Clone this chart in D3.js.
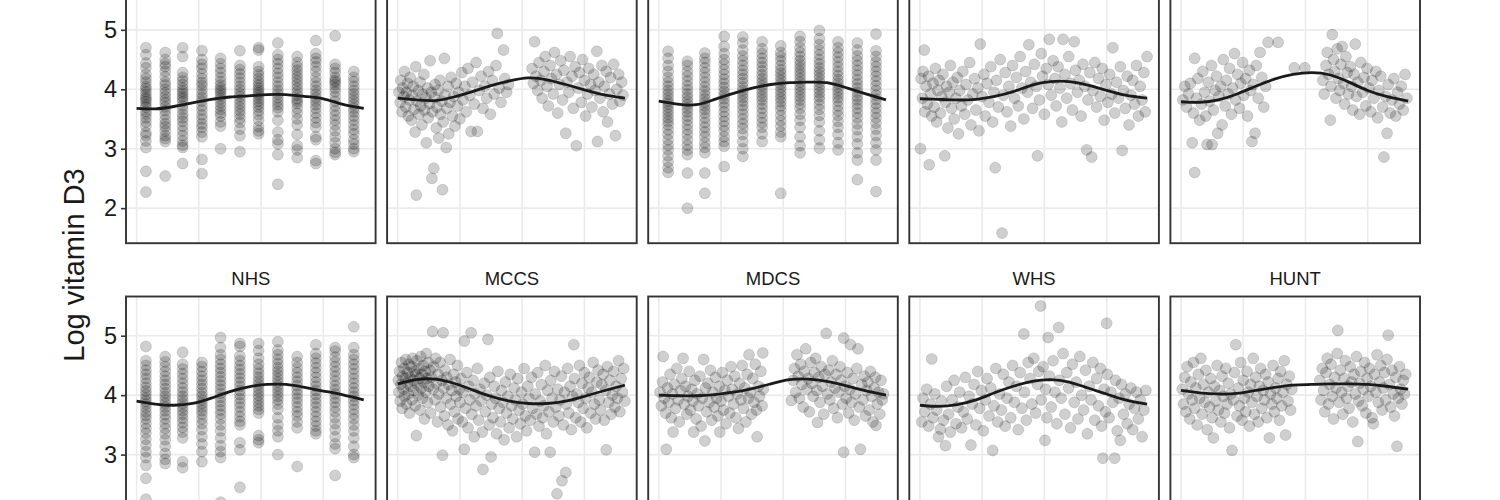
<!DOCTYPE html>
<html>
<head>
<meta charset="utf-8">
<script src="https://cdn.jsdelivr.net/npm/d3@7"></script>
<style>
  body { margin: 0; background: #fff; }
  text { font-family: "Liberation Sans", Arial, Helvetica, sans-serif; }
</style>
</head>
<body>
<div id="chart"></div>
<script>
const width = 1500;
const height = 500;

// Facet titles (top-row titles fall outside the crop)
const topTitles = ["", "", "", "", ""];
const bottomTitles = ["NHS", "MCCS", "MDCS", "WHS", "HUNT"];

const yTicks = [2, 3, 4, 5];
const xTicks = [0, 100, 200, 300];
const monthDays = [15, 46, 74, 105, 135, 166, 196, 227, 258, 288, 319, 349];
const fitDays = [0, 30, 60, 90, 120, 150, 180, 210, 240, 270, 300, 330, 365];

// Fitted seasonal curves, one value per fitDays entry
const fitTop1 = [3.68, 3.67, 3.71, 3.77, 3.83, 3.87, 3.89, 3.91, 3.91, 3.88, 3.84, 3.75, 3.68];
const fitTop2 = [3.85, 3.82, 3.81, 3.87, 3.96, 4.06, 4.14, 4.19, 4.16, 4.08, 3.99, 3.91, 3.85];
const fitTop3 = [3.80, 3.75, 3.74, 3.83, 3.93, 4.02, 4.08, 4.11, 4.12, 4.11, 4.03, 3.93, 3.82];
const fitTop4 = [3.84, 3.83, 3.82, 3.83, 3.88, 3.96, 4.07, 4.13, 4.13, 4.07, 3.98, 3.90, 3.85];
const fitTop5 = [3.79, 3.78, 3.82, 3.92, 4.05, 4.17, 4.25, 4.28, 4.24, 4.12, 3.98, 3.88, 3.80];
const fitNHS  = [3.90, 3.85, 3.83, 3.86, 3.95, 4.06, 4.14, 4.18, 4.18, 4.13, 4.07, 4.01, 3.92];
const fitMCCS = [4.19, 4.26, 4.27, 4.20, 4.09, 3.98, 3.90, 3.86, 3.86, 3.90, 3.98, 4.07, 4.17];
const fitMDCS = [4.00, 3.99, 3.99, 4.01, 4.05, 4.11, 4.19, 4.26, 4.27, 4.23, 4.16, 4.08, 4.00];
const fitWHS  = [3.83, 3.81, 3.84, 3.92, 4.04, 4.15, 4.23, 4.26, 4.22, 4.12, 4.02, 3.92, 3.85];
const fitHUNT = [4.08, 4.04, 4.02, 4.03, 4.08, 4.13, 4.17, 4.18, 4.19, 4.19, 4.18, 4.15, 4.10];

// Monthly sampled cohorts: one list of log D3 values per month
const top1Months = [
  [4.70,4.58,4.44,4.36,4.25,4.18,4.12,4.05,4.01,3.96,3.91,3.86,3.83,3.79,3.74,3.70,3.63,3.58,3.52,3.45,3.38,3.27,3.22,3.13,3.02,2.62,2.27],
  [4.62,4.50,4.43,4.38,4.30,4.21,4.12,4.07,4.00,3.94,3.88,3.82,3.77,3.70,3.64,3.57,3.49,3.42,3.37,3.30,3.22,3.17,3.12,2.54],
  [4.70,4.55,4.28,4.20,4.14,4.08,4.02,3.97,3.93,3.88,3.84,3.79,3.72,3.66,3.58,3.52,3.46,3.38,3.30,3.22,3.13,3.06,3.02,2.75],
  [4.65,4.50,4.42,4.35,4.26,4.18,4.11,4.06,3.99,3.92,3.86,3.80,3.72,3.65,3.57,3.50,3.42,3.36,3.28,3.20,2.82,2.58],
  [4.52,4.43,4.35,4.28,4.20,4.13,4.07,4.02,3.98,3.94,3.89,3.84,3.78,3.72,3.66,3.60,3.55,3.45,3.38,3.00],
  [4.65,4.40,4.33,4.26,4.19,4.12,4.05,3.99,3.93,3.88,3.82,3.76,3.70,3.64,3.58,3.51,3.44,3.33,3.22,2.95],
  [4.70,4.66,4.38,4.30,4.24,4.18,4.12,4.07,4.02,3.98,3.94,3.90,3.85,3.80,3.75,3.70,3.64,3.57,3.48,3.37,3.30,3.25],
  [4.78,4.58,4.50,4.43,4.35,4.27,4.20,4.12,4.05,3.98,3.92,3.86,3.80,3.74,3.69,3.62,3.48,3.28,3.15,3.08,2.90,2.40],
  [4.55,4.45,4.38,4.32,4.26,4.20,4.14,4.08,4.02,3.96,3.90,3.84,3.80,3.76,3.68,3.60,3.50,3.40,3.24,3.05,2.98,2.85],
  [4.82,4.60,4.52,4.46,4.38,4.30,4.20,4.12,4.05,3.98,3.92,3.86,3.80,3.74,3.68,3.60,3.52,3.44,3.36,3.20,3.15,2.80,2.75],
  [4.90,4.42,4.35,4.28,4.20,4.15,4.12,4.08,4.02,3.96,3.88,3.80,3.72,3.64,3.56,3.48,3.40,3.30,3.20,3.10,3.00,2.94,2.90],
  [4.30,4.20,4.13,4.05,3.98,3.92,3.86,3.80,3.74,3.68,3.62,3.55,3.48,3.40,3.32,3.25,3.15,3.08,3.00,2.95]
];

const top3Months = [
  [4.64,4.52,4.40,4.30,4.20,4.12,4.05,3.98,3.92,3.86,3.80,3.75,3.70,3.64,3.58,3.52,3.46,3.40,3.32,3.24,3.15,3.06,2.98,2.88,2.78,2.68,2.60],
  [4.47,4.40,4.30,4.22,4.14,4.06,3.99,3.92,3.86,3.80,3.74,3.68,3.62,3.55,3.48,3.40,3.32,3.24,3.15,3.06,2.98,2.90,2.59,2.00],
  [4.61,4.52,4.45,4.36,4.28,4.20,4.12,4.04,3.97,3.90,3.84,3.78,3.72,3.66,3.60,3.52,3.44,3.36,3.28,3.20,3.10,3.02,2.93,2.59,2.25],
  [4.89,4.72,4.60,4.50,4.42,4.33,4.25,4.17,4.10,4.03,3.96,3.90,3.84,3.77,3.70,3.62,3.54,3.46,3.38,3.30,3.20,3.12,3.04,2.70],
  [4.88,4.78,4.66,4.56,4.48,4.40,4.32,4.25,4.18,4.11,4.04,3.98,3.92,3.86,3.80,3.73,3.66,3.58,3.50,3.42,3.34,3.24,3.12,3.00,2.87],
  [4.80,4.68,4.60,4.52,4.45,4.38,4.31,4.24,4.18,4.12,4.06,4.00,3.94,3.88,3.82,3.75,3.68,3.60,3.52,3.44,3.36,3.25,3.12],
  [4.73,4.62,4.55,4.48,4.40,4.33,4.27,4.21,4.15,4.09,4.03,3.97,3.91,3.85,3.79,3.72,3.65,3.56,3.47,3.38,3.28,3.20,2.25],
  [4.89,4.80,4.70,4.62,4.55,4.48,4.42,4.36,4.30,4.24,4.18,4.12,4.06,4.00,3.94,3.88,3.82,3.75,3.68,3.58,3.48,3.36,3.20,3.05,2.93],
  [4.99,4.85,4.75,4.66,4.58,4.50,4.43,4.36,4.30,4.24,4.18,4.12,4.06,4.00,3.94,3.88,3.82,3.74,3.66,3.56,3.45,3.30,3.15,3.01],
  [4.80,4.70,4.62,4.54,4.46,4.38,4.30,4.23,4.16,4.10,4.04,3.98,3.92,3.86,3.80,3.72,3.64,3.56,3.46,3.36,3.24,3.10,2.98],
  [4.78,4.66,4.56,4.48,4.40,4.32,4.24,4.16,4.09,4.02,3.95,3.88,3.82,3.75,3.68,3.60,3.52,3.42,3.32,3.20,3.08,2.93,2.81,2.48],
  [4.93,4.65,4.55,4.46,4.38,4.30,4.22,4.14,4.06,3.98,3.90,3.83,3.76,3.68,3.60,3.52,3.43,3.33,3.22,3.10,2.98,2.81,2.28]
];

const nhsMonths = [
  [4.82,4.58,4.50,4.42,4.35,4.28,4.20,4.13,4.07,4.01,3.95,3.90,3.85,3.79,3.72,3.66,3.60,3.52,3.44,3.36,3.26,3.16,3.05,2.95,2.82,2.60,2.25],
  [4.65,4.56,4.48,4.40,4.32,4.25,4.18,4.11,4.04,3.98,3.92,3.86,3.80,3.74,3.67,3.60,3.52,3.44,3.35,3.25,3.14,3.02,2.92,2.85],
  [4.72,4.52,4.44,4.36,4.28,4.20,4.12,4.05,3.98,3.92,3.86,3.80,3.74,3.68,3.61,3.54,3.46,3.38,3.28,2.88,2.78],
  [4.55,4.48,4.40,4.32,4.25,4.18,4.11,4.04,3.98,3.92,3.86,3.80,3.74,3.68,3.60,3.52,3.42,3.30,3.18,3.05,2.88],
  [4.97,4.80,4.68,4.60,4.52,4.45,4.38,4.31,4.24,4.17,4.10,4.03,3.96,3.89,3.82,3.75,3.68,3.60,3.50,3.40,3.28,3.15,3.05,2.95,2.20],
  [4.87,4.82,4.66,4.58,4.50,4.43,4.36,4.29,4.22,4.15,4.08,4.01,3.94,3.87,3.80,3.72,3.64,3.56,3.50,3.20,3.08,2.45],
  [4.87,4.75,4.62,4.52,4.44,4.37,4.30,4.24,4.18,4.12,4.06,4.00,3.94,3.88,3.82,3.76,3.70,3.32,3.25,3.20],
  [4.90,4.76,4.68,4.60,4.53,4.46,4.40,4.34,4.28,4.22,4.16,4.10,4.04,3.98,3.92,3.85,3.76,3.62,3.50,3.40,3.30,3.00],
  [4.65,4.55,4.46,4.38,4.30,4.23,4.16,4.09,4.02,3.95,3.88,3.80,3.72,3.65,3.55,3.45,2.80],
  [4.85,4.70,4.62,4.54,4.46,4.38,4.30,4.22,4.15,4.08,4.01,3.94,3.87,3.80,3.72,3.64,3.56,3.48,3.40,3.35],
  [4.80,4.74,4.64,4.56,4.48,4.40,4.32,4.24,4.16,4.09,4.02,3.95,3.88,3.80,3.72,3.62,3.52,3.42,3.30,3.18,3.10,2.65],
  [5.15,4.80,4.68,4.60,4.52,4.44,4.36,4.28,4.20,4.12,4.05,3.98,3.91,3.84,3.76,3.68,3.60,3.50,3.40,3.28,3.14,3.00,2.95]
];

// Cohorts sampled across the year: [day of year, log D3]
const top2Points = [
  [2,3.95],[4,3.78],[5,4.15],[7,3.62],[8,4.02],[10,3.88],[11,4.30],[13,3.70],[14,3.95],[16,4.10],[17,3.55],[19,3.82],[20,4.20],[22,3.48],[23,3.90],[25,4.05],[26,3.66],[28,3.28],[29,4.38],[30,2.22],[31,3.80],[33,3.98],[34,3.58],[36,4.12],[37,3.72],[39,3.40],[40,3.92],[42,4.25],[43,3.65],[45,3.85],[46,3.10],[48,4.02],[49,3.52],[51,3.76],[52,4.48],[54,3.95],[55,2.50],[56,3.62],[58,2.67],[59,3.86],[60,4.08],[62,3.35],[63,3.70],[65,3.98],[66,3.18],[68,4.15],[69,3.58],[71,3.80],[72,2.31],[73,3.45],[75,4.52],[76,3.90],[78,3.02],[79,3.68],[81,4.05],[82,3.25],[84,3.78],[86,4.20],[88,3.55],[90,3.88],[92,3.38],[94,4.10],[96,3.72],[98,3.95],[100,3.50],[103,4.28],[105,3.82],[108,4.05],[110,3.62],[113,4.35],[116,3.90],[118,3.29],[120,4.12],[123,3.75],[126,4.45],[128,3.29],[131,3.98],[134,4.22],[137,3.68],[140,4.05],[143,3.85],[146,4.30],[149,3.58],[152,4.15],[155,3.92],[158,4.40],[160,4.94],[163,4.02],[166,3.78],[170,4.66],[172,4.18],[175,3.95],[178,4.08],
  [216,4.35],[218,4.10],[220,4.80],[222,4.22],[225,3.98],[227,4.45],[230,4.15],[232,3.85],[235,4.30],[237,4.55],[240,4.05],[242,3.72],[245,4.40],[247,4.18],[250,3.92],[252,4.62],[255,4.25],[257,3.60],[260,4.08],[262,4.48],[265,3.82],[267,4.32],[270,3.26],[272,4.12],[275,3.95],[277,4.55],[280,4.22],[282,3.68],[285,4.38],[287,3.05],[290,4.02],[292,4.28],[295,3.78],[297,4.50],[300,4.15],[302,3.55],[305,3.92],[307,4.35],[310,4.08],[312,3.70],[315,4.25],[317,3.98],[320,4.64],[321,3.12],[323,4.12],[325,3.85],[328,4.40],[330,3.62],[332,4.05],[335,4.30],[337,3.45],[340,3.92],[342,4.20],[345,3.75],[347,4.42],[350,3.22],[352,4.00],[355,4.25],[357,3.80],[360,4.12],[362,3.90]
];

const top4Points = [
  [1,3.00],[2,4.18],[4,3.85],[5,4.30],[7,4.66],[8,3.62],[10,4.05],[12,3.75],[14,4.22],[15,2.73],[17,3.92],[19,3.55],[21,4.10],[23,3.70],[25,4.35],[27,3.45],[29,3.98],[31,4.15],[33,3.60],[35,3.88],[37,4.25],[40,2.88],[41,3.78],[43,4.05],[45,3.35],[47,3.95],[49,4.40],[51,3.68],[53,4.12],[55,3.50],[58,3.85],[60,4.20],[62,3.25],[64,3.98],[67,3.72],[69,4.30],[72,3.58],[74,4.08],[77,3.82],[80,4.45],[82,3.40],[85,3.92],[88,4.18],[90,3.65],[93,4.02],[95,3.30],[97,4.76],[100,3.88],[103,4.25],[105,3.55],[108,4.10],[111,3.78],[114,4.38],[117,3.45],[119,3.95],[121,2.68],[123,4.15],[126,3.70],[129,4.50],[132,1.58],[134,3.90],[137,4.28],[140,3.62],[143,4.05],[146,3.38],[149,4.40],[152,3.85],[155,4.20],[158,3.72],[161,4.55],[164,4.02],[167,3.50],[170,4.30],[173,3.95],[175,4.75],[178,4.12],[181,3.68],[184,4.42],[187,4.05],[189,2.88],[192,3.82],[195,4.60],[197,4.22],[200,3.58],[203,4.35],[206,4.08],[208,4.84],[211,3.90],[214,4.48],[217,4.18],[219,3.72],[222,4.38],[225,4.02],[228,3.45],[230,4.84],[233,4.25],[236,3.85],[239,4.55],[242,4.10],[245,3.65],[248,4.80],[250,4.32],[253,3.95],[256,4.15],[259,3.55],[262,4.42],[265,4.05],[268,2.98],[270,3.82],[273,4.28],[276,2.86],[278,3.98],[281,4.45],[284,3.70],[287,4.18],[290,3.88],[293,4.35],[296,3.48],[299,4.08],[302,3.78],[305,4.25],[308,3.92],[310,4.70],[313,3.60],[316,4.12],[319,3.85],[322,4.38],[325,2.97],[327,3.98],[330,3.68],[333,4.22],[336,3.40],[339,3.90],[342,4.15],[345,3.75],[348,4.40],[351,3.55],[354,4.05],[357,3.82],[360,4.28],[362,3.62],[365,4.55]
];

const top5Points = [
  [3,3.82],[6,4.05],[9,3.70],[12,3.92],[15,4.10],[18,3.10],[20,3.60],[22,4.52],[22,2.60],[25,3.85],[27,4.18],[30,3.48],[33,3.75],[35,4.30],[38,3.95],[40,3.55],[42,3.07],[44,4.12],[46,3.80],[49,4.40],[50,3.07],[52,3.65],[55,3.98],[57,4.22],[59,3.26],[61,3.88],[64,4.05],[66,3.40],[68,4.50],[71,3.72],[73,4.15],[76,3.92],[78,4.35],[81,3.58],[83,4.02],[86,4.60],[88,3.82],[91,4.25],[94,3.68],[96,4.10],[99,4.45],[101,3.90],[104,4.18],[107,3.55],[110,4.32],[112,3.98],[114,3.12],[116,4.08],[119,3.26],[121,4.40],[124,3.85],[127,4.62],[130,4.20],[133,3.70],[136,4.05],[140,4.79],[156,4.79],[182,4.36],[199,4.36],
  [228,4.15],[230,3.92],[233,4.40],[235,4.62],[237,4.25],[240,3.48],[241,4.05],[243,4.92],[245,4.50],[247,4.30],[249,3.85],[251,4.68],[253,4.18],[255,3.98],[257,4.42],[259,4.72],[261,4.10],[263,3.75],[265,4.55],[267,4.28],[269,3.92],[272,4.38],[274,4.05],[276,3.65],[278,4.25],[280,4.76],[282,3.88],[284,4.12],[287,3.58],[289,4.45],[292,3.95],[294,4.20],[297,3.72],[299,4.35],[302,4.02],[305,3.62],[307,4.15],[310,3.85],[313,4.30],[316,3.52],[318,3.98],[321,4.22],[324,3.70],[326,2.86],[329,3.88],[331,3.26],[333,4.08],[336,3.60],[339,3.82],[342,4.18],[345,3.55],[348,3.95],[351,3.75],[354,4.05],[357,3.65],[360,4.25],[363,3.85]
];

const mccsPoints = [
  [1,4.25],[2,4.05],[3,4.40],[4,3.90],[5,4.18],[6,4.55],[7,3.78],[8,4.32],[9,4.10],[10,4.45],[11,3.98],[12,4.28],[13,4.60],[14,3.85],[15,4.20],[16,4.38],[17,4.02],[18,4.52],[19,3.70],[20,4.30],[21,4.15],[22,4.48],[23,3.92],[24,4.62],[25,4.25],[26,4.08],[27,4.40],[28,3.82],[29,4.35],[30,3.32],[31,4.58],[32,4.18],[33,4.00],[34,4.45],[35,4.28],[36,3.75],[37,4.65],[38,4.12],[39,4.35],[40,3.95],[41,4.50],[42,4.22],[43,3.60],[44,4.40],[45,4.05],[46,4.70],[47,4.28],[48,3.88],[49,4.55],[50,4.15],[52,4.42],[53,3.70],[54,4.30],[56,5.07],[57,4.10],[58,4.48],[60,3.92],[61,4.62],[62,4.20],[64,3.55],[65,4.35],[66,4.02],[68,4.55],[69,3.80],[71,4.25],[72,2.99],[73,5.05],[74,4.12],[75,3.65],[76,4.42],[78,3.95],[79,4.30],[81,3.50],[82,4.18],[84,4.60],[85,3.85],[87,4.08],[88,3.40],[90,4.35],[91,3.72],[93,4.22],[94,3.98],[96,4.50],[97,3.60],[99,4.10],[100,3.88],
  [102,4.28],[104,3.55],[105,4.05],[107,4.91],[107,3.09],[109,3.78],[111,4.38],[113,3.45],[114,4.15],[116,3.92],[118,5.05],[119,3.68],[121,4.25],[123,3.30],[124,4.02],[126,3.82],[128,4.45],[130,3.58],[132,4.10],[134,3.90],[136,3.38],[137,2.75],[139,4.20],[141,3.72],[143,4.00],[145,4.94],[147,3.50],[148,4.30],[150,2.96],[151,3.85],[153,3.62],[155,4.15],[157,3.95],[159,3.35],[161,4.40],[163,3.78],[165,3.55],[167,4.08],[169,3.88],[171,3.25],[173,4.22],[175,3.70],[177,3.98],[179,3.45],[181,4.35],[183,3.82],[185,3.60],[187,4.12],[189,3.92],[191,3.30],[193,4.28],[195,3.75],[197,3.52],[199,4.05],[201,3.85],[203,4.45],[205,3.65],[207,3.40],[209,4.15],[211,3.95],[213,3.58],[215,4.30],[217,3.78],[220,3.04],[221,4.02],[223,3.68],[225,4.38],[227,3.48],[229,3.90],[231,4.18],[233,3.62],[235,3.82],[237,4.50],[239,3.35],[241,4.08],[243,3.72],[245,3.04],[246,4.25],[248,3.95],[250,3.55],[252,4.40],[254,3.80],[256,2.34],[257,4.10],[259,3.65],[261,3.92],[263,4.32],[264,2.56],[266,3.50],[268,4.05],[270,2.70],[271,3.85],[273,4.45],[275,3.70],[277,4.15],[279,3.42],[281,3.98],[283,4.85],[284,4.28],[286,3.62],[288,4.02],[290,3.88],[292,4.50],[294,3.55],[296,4.20],[298,3.78],[300,4.38],[302,3.95],[304,3.45],[306,4.12],[308,4.30],[310,3.70],[312,4.05],[314,4.55],[316,3.85],[318,3.60],[320,4.22],[322,4.42],[324,3.92],[326,3.75],[328,4.18],[330,4.35],[332,3.58],[334,4.08],[335,3.08],[337,4.48],[339,3.88],[341,4.25],[343,3.68],[345,4.00],[347,4.40],[349,3.80],[351,4.15],[353,3.95],[355,4.58],[357,3.72],[359,4.28],[361,4.05],[363,4.45],[365,3.90]
];

const mdcsPoints = [
  [2,4.05],[4,3.82],[6,4.22],[7,4.65],[9,3.95],[11,3.70],[12,3.09],[14,4.12],[16,3.88],[18,4.35],[20,3.62],[22,4.02],[23,3.38],[25,4.18],[27,3.78],[29,4.45],[31,3.92],[33,3.55],[35,4.08],[37,4.28],[39,4.62],[41,3.85],[43,4.15],[45,3.68],[47,3.98],[49,4.40],[51,3.75],[53,4.10],[55,3.90],[56,3.38],[58,4.25],[60,3.60],[62,4.02],[64,3.82],[66,4.32],[68,3.48],[70,3.95],[72,4.60],[74,3.23],[75,4.12],[77,3.72],[79,4.20],[81,3.88],[83,4.42],[85,3.58],[87,4.05],[89,3.80],[91,4.30],[93,3.95],[95,3.65],[97,4.15],[98,3.38],[100,3.90],[102,4.38],[104,3.75],[106,4.08],[108,3.52],[110,4.25],[112,3.98],[114,3.70],[116,4.48],[118,4.10],[120,3.85],[122,4.32],[124,3.62],[126,4.02],[128,3.44],[130,4.20],[132,3.92],[134,4.50],[136,3.78],[138,4.12],[140,3.55],[142,4.35],[144,3.95],[145,4.68],[147,4.05],[149,3.68],[151,4.28],[153,3.88],[155,4.52],[157,3.75],[158,3.30],[160,4.15],[162,3.98],[164,4.40],[166,3.82],[167,4.71],[168,4.10],
  [213,3.91],[216,4.25],[218,4.45],[220,4.05],[222,4.68],[224,4.32],[226,3.95],[228,4.52],[230,4.18],[232,3.80],[234,4.40],[236,4.78],[238,4.10],[240,4.28],[242,3.72],[244,4.55],[246,4.20],[248,3.98],[250,4.38],[252,4.62],[254,4.08],[255,3.54],[257,4.30],[259,3.88],[261,4.48],[263,4.15],[265,3.68],[267,4.35],[269,5.04],[271,4.02],[273,4.42],[275,3.92],[277,4.22],[279,4.58],[281,3.78],[283,4.12],[285,4.35],[287,3.62],[289,4.05],[291,4.48],[293,4.25],[295,3.85],[297,4.96],[297,3.04],[299,4.15],[301,3.95],[303,4.38],[305,3.70],[307,4.10],[308,4.85],[310,3.88],[312,4.28],[314,3.58],[316,4.02],[318,4.45],[320,4.78],[322,3.80],[324,3.09],[326,4.18],[328,3.92],[330,4.32],[332,3.65],[334,4.08],[336,4.22],[338,3.75],[340,4.40],[342,3.98],[344,3.55],[346,4.12],[348,4.30],[349,3.49],[351,3.85],[353,4.05],[355,3.68],[357,4.25],[359,3.92],[361,4.02]
];

const whsPoints = [
  [3,3.55],[5,3.95],[8,3.72],[11,4.10],[14,3.48],[17,3.85],[19,4.61],[21,3.62],[24,4.02],[27,3.75],[30,3.30],[33,3.43],[35,3.90],[38,3.58],[41,3.15],[43,4.15],[46,3.68],[49,3.38],[52,3.92],[55,4.25],[58,3.52],[61,3.80],[64,4.05],[67,3.45],[70,3.72],[73,4.30],[76,3.60],[79,3.98],[82,3.16],[84,3.85],[87,4.18],[90,3.50],[93,4.40],[96,3.78],[99,4.08],[102,3.40],[105,3.92],[108,4.28],[111,3.65],[114,4.12],[117,3.07],[119,3.82],[122,4.45],[125,3.55],[128,4.02],[131,3.75],[134,4.35],[137,3.48],[140,3.95],[143,4.22],[146,3.62],[149,4.50],[152,3.88],[155,4.15],[158,3.42],[161,4.38],[164,3.78],[167,5.03],[168,4.05],[171,3.58],[174,4.55],[177,4.28],[180,3.85],[183,4.62],[186,3.70],[189,4.18],[191,4.40],[194,5.50],[195,3.92],[198,4.48],[201,3.24],[202,4.10],[204,3.62],[206,4.97],[208,4.32],[211,3.80],[214,4.58],[217,4.05],[220,3.52],[223,5.14],[224,4.25],[227,3.95],[230,4.70],[233,3.68],[236,4.38],[239,4.12],[242,3.45],[245,4.52],[248,3.88],[251,4.22],[254,3.60],[257,4.65],[260,4.00],[263,3.75],[266,4.42],[269,3.35],[272,4.15],[275,3.92],[278,4.55],[281,3.58],[284,4.28],[287,3.82],[290,4.45],[292,3.48],[294,2.94],[296,4.10],[298,3.72],[300,5.21],[301,4.35],[304,3.62],[307,4.05],[310,3.88],[313,2.94],[314,4.25],[317,3.40],[320,3.95],[322,3.24],[324,4.18],[327,3.68],[330,4.02],[333,3.52],[336,3.85],[339,4.12],[342,3.42],[345,3.78],[348,4.05],[351,3.60],[354,3.92],[357,3.30],[360,3.75],[363,4.08]
];

const huntPoints = [
  [2,4.10],[4,3.85],[6,4.30],[8,3.72],[10,4.48],[12,4.02],[14,3.60],[16,4.22],[18,3.92],[20,4.55],[22,3.78],[24,4.12],[26,3.50],[28,4.35],[30,3.95],[32,4.62],[34,3.68],[36,4.18],[38,3.88],[40,4.42],[42,3.42],[44,4.05],[46,3.80],[48,4.28],[50,3.62],[52,3.28],[54,4.15],[56,3.90],[58,4.50],[60,3.75],[62,4.08],[64,3.55],[66,4.32],[68,3.98],[70,3.70],[72,4.45],[74,3.85],[76,4.20],[78,3.45],[80,4.02],[82,3.07],[84,3.92],[86,4.38],[88,4.85],[90,3.65],[92,4.12],[94,3.82],[96,4.55],[98,3.58],[100,4.25],[102,3.95],[104,3.72],[106,4.40],[108,4.05],[110,3.48],[112,4.18],[114,3.88],[116,4.62],[118,3.68],[120,4.30],[122,3.98],[124,3.55],[126,4.15],[128,4.45],[130,3.78],[132,4.08],[134,3.92],[136,4.35],[138,3.62],[140,4.22],[142,3.28],[144,4.02],[146,3.85],[148,4.50],[150,3.72],[152,4.12],[154,3.95],[156,4.28],[158,3.58],[160,4.40],[162,3.82],[164,4.05],[166,4.58],[168,3.33],[170,4.18],[172,3.90],[174,4.32],[176,3.75],[178,4.10],
  [223,4.25],[225,3.92],[227,4.45],[229,4.08],[231,3.72],[233,4.38],[235,4.62],[237,3.85],[239,4.18],[241,4.52],[243,3.98],[245,3.60],[247,4.30],[249,4.12],[251,4.70],[252,5.09],[254,3.88],[256,4.42],[258,4.05],[260,3.68],[262,4.28],[264,4.58],[266,3.95],[268,4.15],[270,3.78],[272,4.48],[274,4.22],[276,3.55],[278,4.35],[280,4.02],[282,4.65],[284,3.22],[285,3.90],[287,4.20],[289,4.40],[291,3.82],[293,4.10],[295,4.55],[297,3.70],[299,4.28],[301,3.98],[303,4.45],[305,4.15],[307,3.62],[309,3.52],[311,4.35],[313,4.05],[315,4.68],[317,3.88],[319,4.22],[321,4.50],[323,3.75],[325,4.12],[327,4.38],[329,3.92],[331,4.60],[333,5.01],[335,4.18],[337,3.80],[339,4.42],[341,4.02],[343,3.65],[345,4.30],[347,3.14],[349,3.95],[351,4.48],[353,4.10],[355,3.85],[357,4.25],[359,4.02],[361,4.35]
];

// Layout
const panelW = 249.6;
const panelH = 252.6;
const gapX = 11.5;
const left0 = 126;
const rowTop = [-9.4, 296.5];
const colX = i => left0 + i * (panelW + gapX);

const monthPoints = months => months.flatMap((vals, i) => vals.map(v => [monthDays[i], v]));

const panels = [
  {row: 0, col: 0, title: topTitles[0], points: monthPoints(top1Months), fit: fitTop1},
  {row: 0, col: 1, title: topTitles[1], points: top2Points, fit: fitTop2},
  {row: 0, col: 2, title: topTitles[2], points: monthPoints(top3Months), fit: fitTop3},
  {row: 0, col: 3, title: topTitles[3], points: top4Points, fit: fitTop4},
  {row: 0, col: 4, title: topTitles[4], points: top5Points, fit: fitTop5},
  {row: 1, col: 0, title: bottomTitles[0], points: monthPoints(nhsMonths), fit: fitNHS},
  {row: 1, col: 1, title: bottomTitles[1], points: mccsPoints, fit: fitMCCS},
  {row: 1, col: 2, title: bottomTitles[2], points: mdcsPoints, fit: fitMDCS},
  {row: 1, col: 3, title: bottomTitles[3], points: whsPoints, fit: fitWHS},
  {row: 1, col: 4, title: bottomTitles[4], points: huntPoints, fit: fitHUNT}
];

// Scales
const xScale = d3.scaleLinear().domain([-17, 384]).range([0, panelW]);
const yScale = d3.scaleLinear().domain([1.41, 5.66]).range([panelH, 0]);

const svg = d3.select("#chart")
  .append("svg")
    .attr("width", width)
    .attr("height", height)
    .style("display", "block");

svg.append("defs")
  .append("clipPath")
    .attr("id", "panel-clip")
  .append("rect")
    .attr("width", panelW)
    .attr("height", panelH);

const fitLine = d3.line()
  .x(d => xScale(d[0]))
  .y(d => yScale(d[1]))
  .curve(d3.curveNatural);

panels.forEach(p => {
  const g = svg.append("g")
    .attr("transform", `translate(${colX(p.col)}, ${rowTop[p.row]})`);

  // Grid
  g.append("g")
    .selectAll("line")
    .data(xTicks)
    .join("line")
      .attr("x1", d => xScale(d))
      .attr("x2", d => xScale(d))
      .attr("y1", 0)
      .attr("y2", panelH)
      .attr("stroke", "#ebebeb")
      .attr("stroke-width", 1.6);
  g.append("g")
    .selectAll("line")
    .data(yTicks)
    .join("line")
      .attr("x1", 0)
      .attr("x2", panelW)
      .attr("y1", d => yScale(d))
      .attr("y2", d => yScale(d))
      .attr("stroke", "#ebebeb")
      .attr("stroke-width", 1.6);

  // Points
  g.append("g")
      .attr("clip-path", "url(#panel-clip)")
    .selectAll("circle")
    .data(p.points)
    .join("circle")
      .attr("cx", d => xScale(d[0]))
      .attr("cy", d => yScale(d[1]))
      .attr("r", 5.5)
      .attr("fill", "#000")
      .attr("fill-opacity", 0.19)
      .attr("stroke", "#000")
      .attr("stroke-opacity", 0.12)
      .attr("stroke-width", 1);

  // Fitted curve
  g.append("path")
    .datum(fitDays.map((d, i) => [d, p.fit[i]]))
      .attr("d", fitLine)
      .attr("fill", "none")
      .attr("stroke", "#1a1a1a")
      .attr("stroke-width", 2.8);

  // Border
  g.append("rect")
    .attr("width", panelW)
    .attr("height", panelH)
    .attr("fill", "none")
    .attr("stroke", "#333")
    .attr("stroke-width", 1.9);

  if (p.title) {
    g.append("text")
      .attr("x", panelW / 2)
      .attr("y", -11.5)
      .attr("text-anchor", "middle")
      .attr("font-size", 18.5)
      .attr("fill", "#1a1a1a")
      .text(p.title);
  }

  if (p.col === 0) {
    // only ticks whose labels fall inside the cropped picture
    const shownTicks = yTicks.filter(d => rowTop[p.row] + yScale(d) + 12 < height);
    const leftAxis = d3.axisLeft(yScale)
      .tickValues(shownTicks)
      .tickSize(5)
      .tickPadding(4)
      .tickFormat(d3.format("d"));
    const axis = g.append("g").call(leftAxis);
    axis.select(".domain").remove();
    axis.selectAll(".tick line").attr("stroke", "#333").attr("stroke-width", 1.6);
    axis.selectAll(".tick text")
      .attr("font-size", 23.5)
      .attr("font-family", "Liberation Sans, Arial, sans-serif")
      .attr("fill", "#1a1a1a");
  }
});

// Y axis title
svg.append("text")
  .attr("transform", "translate(83.5, 265) rotate(-90)")
  .attr("text-anchor", "middle")
  .attr("font-size", 29)
  .attr("fill", "#1a1a1a")
  .text("Log vitamin D3");
</script>
</body>
</html>
